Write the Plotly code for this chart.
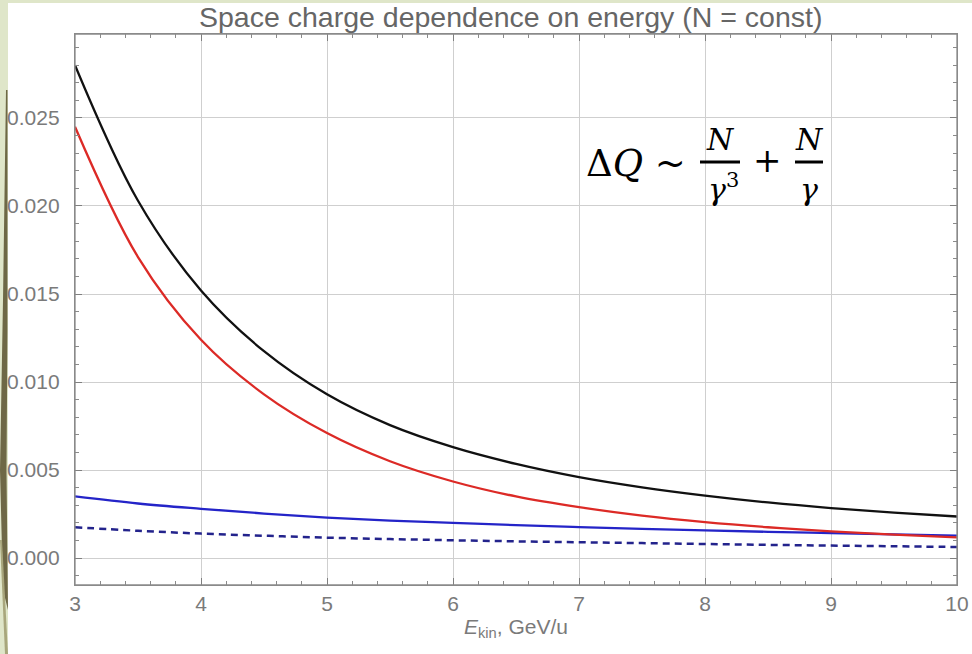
import plotly.graph_objects as go

# ---- data ----
energy = [3, 3.5, 4, 4.5, 5, 5.5, 6, 6.5, 7, 7.5, 8, 8.5, 9, 9.5, 10]
dq_total = [0.0280, 0.0203, 0.0152, 0.01175, 0.0093, 0.00755, 0.0063, 0.00535,
            0.0046, 0.00402, 0.00355, 0.00316, 0.00284, 0.00258, 0.00236]
dq_gamma3 = [0.0245, 0.0171, 0.0124, 0.0093, 0.0071, 0.0055, 0.00435, 0.0035,
             0.00289, 0.00241, 0.00204, 0.00175, 0.00152, 0.00133, 0.00117]
dq_gamma1 = [0.0035, 0.0031, 0.0028, 0.00253, 0.0023, 0.00213, 0.0020, 0.00187,
             0.00176, 0.00166, 0.00157, 0.00149, 0.00142, 0.00135, 0.00128]
dq_gamma1_half = [0.00175, 0.00155, 0.00139, 0.00127, 0.00116, 0.00108, 0.00101,
                  0.00095, 0.0009, 0.00085, 0.0008, 0.00075, 0.00071, 0.00067, 0.00063]

x_ticks = [3, 4, 5, 6, 7, 8, 9, 10]
y_ticks = [0.000, 0.005, 0.010, 0.015, 0.020, 0.025]
y_tick_labels = ["0.000", "0.005", "0.010", "0.015", "0.020", "0.025"]

title_text = "Space charge dependence on energy (N = const)"
x_label = "<i>E</i><sub>kin</sub>, GeV/u"

# ---- geometry ----
W, H = 972, 654
L, R, T, B = 75, 15, 34, 69
PW, PH = W - L - R, H - T - B


def px(xp):
    return (xp - L) / PW


def py(yp):
    return (H - B - yp) / PH


fig = go.Figure()

fig.add_trace(go.Scatter(x=energy, y=dq_gamma1_half, mode="lines",
                         line=dict(color="#23238c", width=2.5, dash="7px,5px",
                                   shape="spline", smoothing=1.0),
                         showlegend=False))
fig.add_trace(go.Scatter(x=energy, y=dq_gamma1, mode="lines",
                         line=dict(color="#2424c8", width=2.3, shape="spline", smoothing=1.0),
                         showlegend=False))
fig.add_trace(go.Scatter(x=energy, y=dq_gamma3, mode="lines",
                         line=dict(color="#dc2a26", width=2.3, shape="spline", smoothing=1.0),
                         showlegend=False))
fig.add_trace(go.Scatter(x=energy, y=dq_total, mode="lines",
                         line=dict(color="#111111", width=2.3, shape="spline", smoothing=1.0),
                         showlegend=False))

tick_font = dict(family="Liberation Sans, Arial, sans-serif", size=21, color="#7a7a7a")
axis_common = dict(ticks="inside", ticklen=7, tickcolor="#7f7f7f", tickwidth=1,
                   showgrid=True, gridcolor="#cfcfcf", gridwidth=1,
                   showline=True, linecolor="#8a8a8a", linewidth=1.3, mirror="allticks",
                   zeroline=False, tickfont=tick_font, automargin=False)

fig.update_xaxes(range=[3, 10], tickvals=x_ticks,
                 minor=dict(tickvals=[3 + 0.2 * i for i in range(36)], ticks="inside",
                            ticklen=4, tickcolor="#8a8a8a", showgrid=False),
                 title=dict(text=x_label, font=tick_font, standoff=4),
                 **axis_common)
fig.update_yaxes(range=[-0.00153, 0.02977], tickvals=y_ticks, ticktext=y_tick_labels,
                 minor=dict(tickvals=[-0.001 + 0.001 * i for i in range(31)], ticks="inside",
                            ticklen=4, tickcolor="#8a8a8a", showgrid=False),
                 ticklabelstandoff=10,
                 **axis_common)

shapes = [
    # white slide panel
    dict(type="rect", xref="paper", yref="paper", x0=px(8), x1=px(975), y0=py(657), y1=py(3),
         fillcolor="white", line=dict(width=0), layer="below"),
    # decorative olive stripes at the left edge
    dict(type="path", xref="paper", yref="paper", layer="below",
         path="M {} {} L {} {} L {} {} L {} {} L {} {} L {} {} L {} {} L {} {} Z".format(
             px(6), py(90), px(7.5), py(90), px(7.5), py(330), px(6.5), py(470),
             px(8), py(610), px(3), py(590), px(0), py(470), px(3), py(300)),
         fillcolor="#6e6846", line=dict(width=0)),
    dict(type="path", xref="paper", yref="paper", layer="below",
         path="M {} {} L {} {} L {} {} L {} {} Z".format(
             px(0), py(540), px(2), py(540), px(8), py(654), px(5), py(654)),
         fillcolor="#a8a67c", line=dict(width=0)),
    # plot frame
    dict(type="rect", xref="paper", yref="paper", x0=0, x1=1, y0=0, y1=1,
         line=dict(color="#8a8a8a", width=1.3), fillcolor="rgba(0,0,0,0)"),
    # fraction bars of the formula
    dict(type="line", xref="paper", yref="paper", x0=px(700), x1=px(740), y0=py(162), y1=py(162),
         line=dict(color="black", width=3)),
    dict(type="line", xref="paper", yref="paper", x0=px(795), x1=px(823), y0=py(162), y1=py(162),
         line=dict(color="black", width=3)),
]

serif = "DejaVu Serif, Liberation Serif, serif"
annotations = [
    dict(text=title_text, xref="paper", yref="paper", x=px(510), y=py(17), showarrow=False,
         font=dict(family="Liberation Sans, Arial, sans-serif", size=28.5, color="#666666"),
         xanchor="center", yanchor="middle"),
    dict(text="Δ<i>Q</i> ~", xref="paper", yref="paper", x=px(584), y=py(163), showarrow=False,
         font=dict(family=serif, size=37, color="black"), xanchor="left", yanchor="middle"),
    dict(text="<i>N</i>", xref="paper", yref="paper", x=px(720), y=py(139), showarrow=False,
         font=dict(family=serif, size=30, color="black"), xanchor="center", yanchor="middle"),
    dict(text="<i>γ</i><sup>3</sup>", xref="paper", yref="paper", x=px(723), y=py(187),
         showarrow=False, font=dict(family=serif, size=30, color="black"),
         xanchor="center", yanchor="middle"),
    dict(text="+", xref="paper", yref="paper", x=px(767), y=py(160), showarrow=False,
         font=dict(family=serif, size=34, color="black"), xanchor="center", yanchor="middle"),
    dict(text="<i>N</i>", xref="paper", yref="paper", x=px(809), y=py(139), showarrow=False,
         font=dict(family=serif, size=30, color="black"), xanchor="center", yanchor="middle"),
    dict(text="<i>γ</i>", xref="paper", yref="paper", x=px(809), y=py(189), showarrow=False,
         font=dict(family=serif, size=30, color="black"), xanchor="center", yanchor="middle"),
]

fig.update_layout(width=W, height=H, margin=dict(l=L, r=R, t=T, b=B, autoexpand=False),
                  paper_bgcolor="#dfe6c9", plot_bgcolor="white",
                  shapes=shapes, annotations=annotations, showlegend=False)

fig.write_html("out.html")
